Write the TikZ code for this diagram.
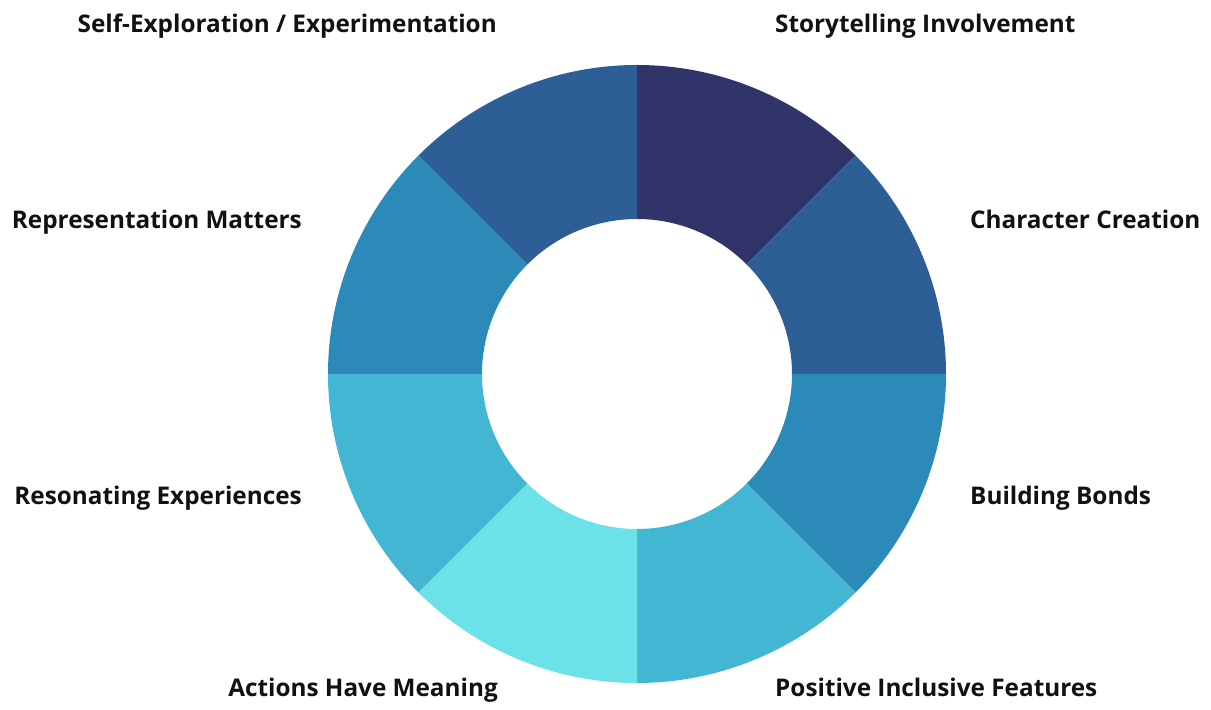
\documentclass[tikz,border=0pt]{standalone}
\usepackage{fontspec}
\setmainfont{Open Sans}
\definecolor{cnavy}{HTML}{303468}
\definecolor{cmid}{HTML}{2D5E96}
\definecolor{cblue}{HTML}{2C8AB8}
\definecolor{clight}{HTML}{43B6D3}
\definecolor{ccyan}{HTML}{6BE2E7}
\definecolor{ctext}{HTML}{111111}
\begin{document}
\begin{tikzpicture}[x=1bp,y=1bp,
  lbl/.style={inner sep=0pt, text=ctext, font=\fontsize{24.4}{29}\selectfont\bfseries}]
\useasboundingbox (0,0) rectangle (1211,710);
\fill[white] (0,0) rectangle (1211,710);
\coordinate (C) at (637,336);
\def\Ro{309}
\def\Ri{155}
\foreach \a/\col in {45/cnavy, 0/cmid, -45/cblue, -90/clight, -135/ccyan, 180/clight, 135/cblue, 90/cmid}{
  \fill[\col] ([shift={(\a:\Ro)}]C) arc[start angle=\a, end angle=\a+45, radius=\Ro]
     -- ([shift={(\a+45:\Ri)}]C) arc[start angle=\a+45, end angle=\a, radius=\Ri] -- cycle;
}
\node[lbl, anchor=base east] (l1) at (497,677) {Self-Exploration / Experimentation};
\node[lbl, anchor=base west] (r1) at (775,677) {Storytelling Involvement};
\node[lbl, anchor=base east] (l2) at (302,481) {Representation Matters};
\node[lbl, anchor=base west] (r2) at (970,481) {Character Creation};
\node[lbl, anchor=base east] (l3) at (302,205) {Resonating Experiences};
\node[lbl, anchor=base west] (r3) at (970,205) {Building Bonds};
\node[lbl, anchor=base east] (l4) at (498,13) {Actions Have Meaning};
\node[lbl, anchor=base west] (r4) at (775,13) {Positive Inclusive Features};
\end{tikzpicture}
\end{document}
